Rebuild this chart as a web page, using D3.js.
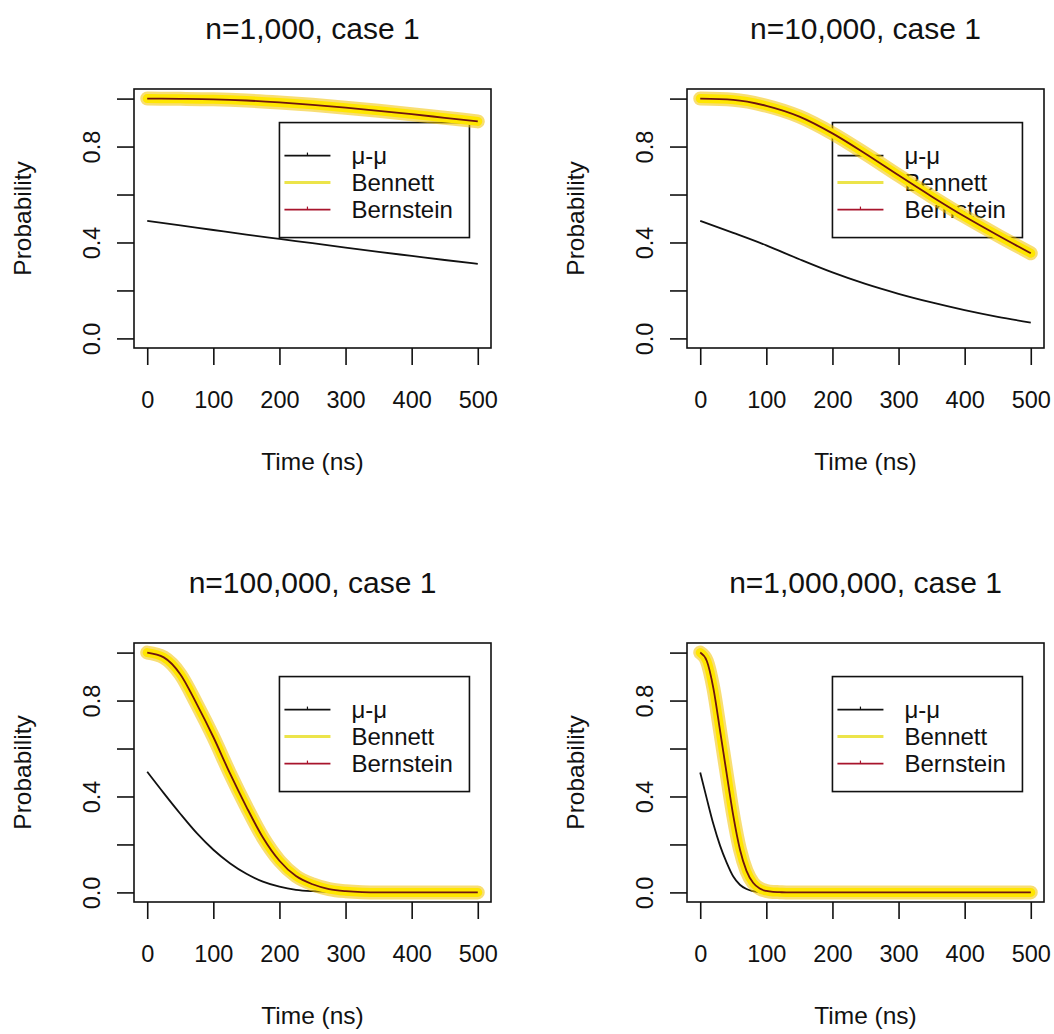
<!DOCTYPE html>
<html>
<head>
<meta charset="utf-8" />
<title>Probability vs time</title>
<script src="https://d3js.org/d3.v7.min.js"></script>
<style>
  body { margin: 0; background: #fff; }
  svg { display: block; font-family: "Liberation Sans", Arial, sans-serif; }
</style>
</head>
<body>
<svg width="1054" height="1034"></svg>
<script>
// ---- data ----
var panelTitles = ["n=1,000, case 1", "n=10,000, case 1", "n=100,000, case 1", "n=1,000,000, case 1"];
var legendLabels = ["\u03bc-\u03bc", "Bennett", "Bernstein"];
var xTicks = [0, 100, 200, 300, 400, 500];
var yTicks = [0, 0.2, 0.4, 0.6, 0.8, 1.0];
var yTickLabels = ["0.0", "", "0.4", "", "0.8", ""];

// n=1,000
var time1 = [0, 50, 100, 150, 200, 250, 300, 350, 400, 450, 500];
var bennett1 = [1.0, 0.999, 0.997, 0.992, 0.984, 0.974, 0.962, 0.949, 0.935, 0.92, 0.905];
var bernstein1 = [1.0, 0.999, 0.997, 0.992, 0.984, 0.974, 0.962, 0.949, 0.935, 0.92, 0.905];
var mumuTime1 = [0, 50, 100, 150, 200, 250, 300, 350, 400, 450, 500];
var mumu1 = [0.49, 0.471, 0.452, 0.433, 0.415, 0.397, 0.379, 0.361, 0.344, 0.327, 0.311];

// n=10,000
var time2 = [0, 50, 100, 150, 200, 250, 300, 350, 400, 450, 500];
var bennett2 = [1.0, 0.995, 0.97, 0.925, 0.855, 0.77, 0.68, 0.592, 0.508, 0.43, 0.355];
var bernstein2 = [1.0, 0.995, 0.97, 0.925, 0.855, 0.77, 0.68, 0.592, 0.508, 0.43, 0.355];
var mumuTime2 = [0, 50, 100, 150, 200, 250, 300, 350, 400, 450, 500];
var mumu2 = [0.49, 0.44, 0.388, 0.33, 0.275, 0.227, 0.186, 0.15, 0.118, 0.09, 0.066];

// n=100,000
var time3 = [0, 25, 50, 75, 100, 125, 150, 175, 200, 225, 250, 275, 300, 325, 350, 375, 400, 425, 450, 475, 500];
var bennett3 = [1.0, 0.98, 0.91, 0.785, 0.648, 0.497, 0.357, 0.229, 0.132, 0.068, 0.034, 0.014, 0.005, 0.001, 0, 0, 0, 0, 0, 0, 0];
var bernstein3 = [1.0, 0.98, 0.91, 0.785, 0.648, 0.497, 0.357, 0.229, 0.132, 0.068, 0.034, 0.014, 0.005, 0.001, 0, 0, 0, 0, 0, 0, 0];
var mumuTime3 = [0, 25, 50, 75, 100, 125, 150, 175, 200, 225, 250, 275, 290];
var mumu3 = [0.503, 0.414, 0.328, 0.247, 0.178, 0.122, 0.078, 0.045, 0.024, 0.011, 0.005, 0.002, 0];

// n=1,000,000
var time4 = [0, 10, 20, 30, 40, 50, 60, 70, 80, 90, 100, 110, 120, 130, 140, 150, 200, 250, 300, 350, 400, 450, 500];
var bennett4 = [1.0, 0.965, 0.85, 0.675, 0.495, 0.32, 0.18, 0.09, 0.04, 0.016, 0.006, 0.002, 0.001, 0, 0, 0, 0, 0, 0, 0, 0, 0, 0];
var bernstein4 = [1.0, 0.965, 0.85, 0.675, 0.495, 0.32, 0.18, 0.09, 0.04, 0.016, 0.006, 0.002, 0.001, 0, 0, 0, 0, 0, 0, 0, 0, 0, 0];
var mumuTime4 = [0, 10, 20, 30, 40, 50, 60, 70, 80, 90];
var mumu4 = [0.5, 0.39, 0.284, 0.195, 0.124, 0.066, 0.032, 0.014, 0.005, 0];

var panels = [
  { title: panelTitles[0], time: time1, bennett: bennett1, bernstein: bernstein1, mt: mumuTime1, mumu: mumu1, col: 0, row: 0 },
  { title: panelTitles[1], time: time2, bennett: bennett2, bernstein: bernstein2, mt: mumuTime2, mumu: mumu2, col: 1, row: 0 },
  { title: panelTitles[2], time: time3, bennett: bennett3, bernstein: bernstein3, mt: mumuTime3, mumu: mumu3, col: 0, row: 1 },
  { title: panelTitles[3], time: time4, bennett: bennett4, bernstein: bernstein4, mt: mumuTime4, mumu: mumu4, col: 1, row: 1 }
];

// ---- layout ----
var svg = d3.select("svg");
svg.append("rect").attr("width", 1054).attr("height", 1034).attr("fill", "#fff");

var boxLeft = [134, 687], boxTop = [89, 643];
var W = 357, H = 259;
var ink = "#111";

panels.forEach(function (p) {
  var g = svg.append("g")
    .attr("transform", "translate(" + boxLeft[p.col] + "," + boxTop[p.row] + ")");

  // R-style 4% padding around the data range
  var x = d3.scaleLinear().domain([-20, 520]).range([0, W]);
  var y = d3.scaleLinear().domain([-0.04, 1.04]).range([H, 0]);

  // title
  g.append("text")
    .attr("x", W / 2).attr("y", -50)
    .attr("text-anchor", "middle")
    .style("font-size", "30px").attr("fill", ink)
    .text(p.title);

  // x axis
  var xa = g.append("g")
    .attr("transform", "translate(0," + H + ")")
    .call(d3.axisBottom(x).tickValues(xTicks).tickSize(17).tickSizeOuter(0).tickPadding(26));
  xa.select(".domain").remove();
  xa.selectAll("line").attr("stroke", ink).attr("stroke-width", 1.6);
  xa.selectAll("text").style("font-size", "23.5px").style("font-family", "Liberation Sans, Arial").attr("fill", ink);

  // y axis
  var ya = g.append("g")
    .call(d3.axisLeft(y).tickValues(yTicks).tickSize(17).tickSizeOuter(0)
      .tickFormat(function (d, i) { return yTickLabels[i]; }));
  ya.select(".domain").remove();
  ya.selectAll("line").attr("stroke", ink).attr("stroke-width", 1.6);
  ya.selectAll("text")
    .attr("x", null).attr("dy", null)
    .attr("text-anchor", "middle")
    .attr("dominant-baseline", "central")
    .attr("transform", "translate(-42,0) rotate(-90)")
    .style("font-size", "23.5px").style("font-family", "Liberation Sans, Arial").attr("fill", ink);

  // axis titles
  g.append("text")
    .attr("x", W / 2).attr("y", H + 122)
    .attr("text-anchor", "middle")
    .style("font-size", "24.5px").attr("fill", ink)
    .text("Time (ns)");
  g.append("text")
    .attr("transform", "translate(-103," + (H / 2) + ") rotate(-90)")
    .attr("text-anchor", "middle")
    .style("font-size", "24.5px").attr("fill", ink)
    .text("Probability");

  // legend (placed at data x=200, y=0.9)
  var lx = x(200), ly = y(0.9);
  var lg = g.append("g").attr("transform", "translate(" + lx + "," + ly + ")");
  lg.append("rect").attr("width", 190).attr("height", 115)
    .attr("fill", "#fff").attr("stroke", ink).attr("stroke-width", 1.6);
  var legColors = ["#111", "#ece44a", "#a8142c"];
  var legWidths = [1.8, 3, 1.8];
  legendLabels.forEach(function (lab, i) {
    var ry = 33 + i * 27;
    lg.append("line").attr("x1", 5).attr("x2", 51).attr("y1", ry).attr("y2", ry)
      .attr("stroke", legColors[i]).attr("stroke-width", legWidths[i]);
    if (i !== 1) {
      lg.append("line").attr("x1", 28).attr("x2", 28).attr("y1", ry - 3).attr("y2", ry)
        .attr("stroke", legColors[i]).attr("stroke-width", 1.2);
    }
    lg.append("text").attr("x", 72).attr("y", ry)
      .attr("dominant-baseline", "central")
      .style("font-size", "24px").attr("fill", ink)
      .text(lab);
  });

  // lines
  var line = d3.line()
    .x(function (d) { return x(d[0]); })
    .y(function (d) { return y(d[1]); })
    .curve(d3.curveMonotoneX);

  var benPts = p.time.map(function (t, i) { return [t, p.bennett[i]]; });
  var berPts = p.time.map(function (t, i) { return [t, p.bernstein[i]]; });
  var muPts = p.mt.map(function (t, i) { return [t, p.mumu[i]]; });

  g.append("path").attr("d", line(muPts)).attr("fill", "none")
    .attr("stroke", "#111").attr("stroke-width", 1.8);
  g.append("path").attr("d", line(benPts)).attr("fill", "none")
    .attr("stroke", "#f2c200").attr("stroke-opacity", 0.55)
    .attr("stroke-width", 14).attr("stroke-linecap", "round").attr("stroke-linejoin", "round");
  g.append("path").attr("d", line(benPts)).attr("fill", "none")
    .attr("stroke", "#ffe600")
    .attr("stroke-width", 9).attr("stroke-linecap", "round").attr("stroke-linejoin", "round");
  g.append("path").attr("d", line(berPts)).attr("fill", "none")
    .attr("stroke", "#6e1410").attr("stroke-width", 1.8);

  // plot box
  g.append("rect").attr("width", W).attr("height", H)
    .attr("fill", "none").attr("stroke", ink).attr("stroke-width", 1.6);
});
</script>
</body>
</html>
